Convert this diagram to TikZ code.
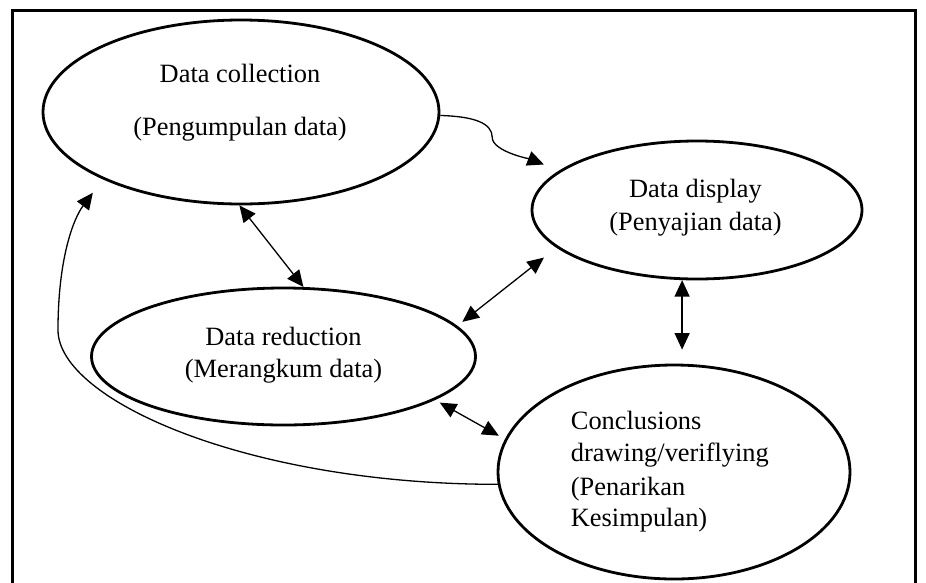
\documentclass[tikz,border=0pt]{standalone}
\usepackage{fontspec}
\setmainfont{Liberation Serif}
\usetikzlibrary{arrows.meta,shapes.geometric}
\begin{document}
\begin{tikzpicture}[x=1pt,y=-1pt,
  >={Triangle[length=16.5pt,width=15pt]},
  bubble/.style={ellipse, draw, line width=2.8pt, inner sep=0pt},
  lbl/.style={font=\fontsize{26.4}{32}\selectfont, inner sep=0pt, anchor=base},
  con/.style={line width=1.3pt},
  frame/.style={line width=3pt}]
\useasboundingbox (0,0) rectangle (926,582);
\clip (0,0) rectangle (926,582);
\draw[frame] (12.5,600) -- (12.5,10) -- (915,10) -- (915,600);

\node[bubble, minimum width=396pt, minimum height=184pt] (e1) at (241,112) {};
\node[bubble, minimum width=330pt, minimum height=138pt] (e2) at (697,210) {};
\node[bubble, minimum width=384pt, minimum height=137pt] (e3) at (283.5,356.5) {};
\node[bubble, minimum width=352pt, minimum height=214pt] (e4) at (674,472) {};

\node[lbl] (t1a) at (240,82.3) {Data collection};
\node[lbl] (t1b) at (240,135) {(Pengumpulan data)};
\node[lbl] (t2a) at (695.5,197) {Data display};
\node[lbl] (t2b) at (695.5,230) {(Penyajian data)};
\node[lbl] (t3a) at (283.5,345) {Data reduction};
\node[lbl] (t3b) at (283.5,377) {(Merangkum data)};
\node[lbl, anchor=base west] (t4a) at (570.7,429.3) {Conclusions};
\node[lbl, anchor=base west] (t4b) at (570.7,461.7) {drawing/veriflying};
\node[lbl, anchor=base west] (t4c) at (570.7,495) {(Penarikan};
\node[lbl, anchor=base west] (t4d) at (570.7,526.7) {Kesimpulan)};

% collection -> display (curved)
\draw[con, ->, shorten >=16.5pt] (e1.-1.5) .. controls +(35,1) and +(0,-14) .. ++(52,22)
  .. controls +(0,14) and +(-28,-11) .. (e2.164.6);
% collection <-> reduction
\draw[con, <->] (e1.-91) -- (e3.74);
% reduction <-> display
\draw[con, <->, shorten <=6.5pt, shorten >=16pt] (e3.10.4) -- (e2.-165.6);
% display <-> conclusions
\draw[con, <->, shorten >=14pt] (e2.-102.3) -- (e2.-102.3 |- e4.north);
% reduction <-> conclusions
\draw[con, <->, shorten <=5.5pt, shorten >=7pt] (e3.-16.3) -- (e4.169.8);
% conclusions -> collection (long curve)
\coordinate (bend) at (58,330);
\draw[con, ->, shorten >=16.7pt] (e4.-176.7) .. controls +(-250,0) and +(0,70) .. (bend)
  .. controls +(0,-70) and +(-30,40) .. (e1.-154.7);
\end{tikzpicture}
\end{document}
